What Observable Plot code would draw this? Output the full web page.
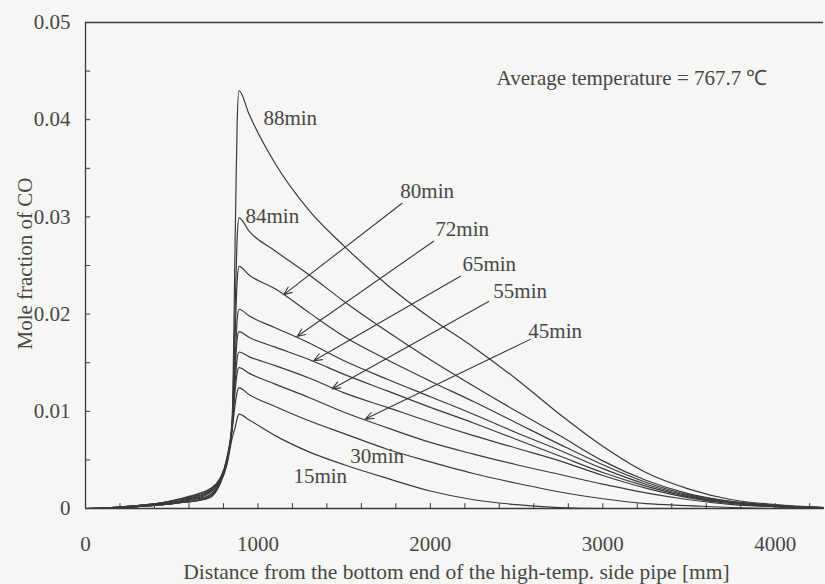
<!DOCTYPE html>
<html>
<head>
<meta charset="utf-8">
<script src="https://cdn.jsdelivr.net/npm/d3@7"></script>
<script src="https://cdn.jsdelivr.net/npm/@observablehq/plot@0.6"></script>
<style>
  body { margin: 0; background: #f6f6f4; }
  #chart svg { display: block; }
</style>
</head>
<body>
<div id="chart"></div>
<script>
// Distance along the pipe [mm] shared by every profile
const distance = [0, 150, 300, 450, 550, 650, 720, 780, 820, 850, 870, 880, 890,
  950, 1100, 1300, 1500, 1750, 2000, 2250, 2500, 2750, 3000, 3250, 3500, 3750, 4000, 4280];

// Mole fraction of CO at each distance, one profile per elapsed time
const co15 = [0, 0, 0.0002, 0.0004, 0.0006, 0.0008, 0.0011, 0.0025, 0.0045, 0.0072, 0.0085, 0.0093, 0.0097,
  0.0091, 0.0075, 0.0058, 0.0045, 0.0031, 0.0018, 0.0009, 0.0004, 0.0001, 0, 0, 0, 0, 0, 0];
const co30 = [0, 0, 0.0002, 0.0004, 0.0006, 0.0008, 0.0012, 0.0026, 0.0047, 0.0080, 0.0110, 0.0120, 0.0124,
  0.0117, 0.0105, 0.0090, 0.0077, 0.0061, 0.0048, 0.0036, 0.0026, 0.0017, 0.0010, 0.0005, 0.0003, 0.0001, 0, 0];
const co45 = [0, 0, 0.0002, 0.0004, 0.0006, 0.0009, 0.0013, 0.0027, 0.0048, 0.0082, 0.0125, 0.0140, 0.0145,
  0.0139, 0.0128, 0.0114, 0.0099, 0.0083, 0.0068, 0.0056, 0.0045, 0.0035, 0.0025, 0.0016, 0.0009, 0.0004, 0.0002, 0.0001];
const co55 = [0, 0, 0.0002, 0.0004, 0.0007, 0.0010, 0.0014, 0.0027, 0.0048, 0.0083, 0.0135, 0.0155, 0.0161,
  0.0156, 0.0147, 0.0134, 0.0119, 0.0104, 0.0089, 0.0075, 0.0062, 0.0049, 0.0034, 0.0021, 0.0011, 0.0005, 0.0002, 0.0001];
const co65 = [0, 0, 0.0002, 0.0005, 0.0008, 0.0011, 0.0016, 0.0028, 0.0049, 0.0084, 0.0150, 0.0175, 0.0182,
  0.0176, 0.0166, 0.0153, 0.0138, 0.0121, 0.0104, 0.0088, 0.0071, 0.0054, 0.0037, 0.0023, 0.0012, 0.0006, 0.0002, 0.0001];
const co72 = [0, 0.0001, 0.0003, 0.0005, 0.0008, 0.0012, 0.0017, 0.0029, 0.0050, 0.0085, 0.0160, 0.0195, 0.0205,
  0.0198, 0.0186, 0.0170, 0.0152, 0.0133, 0.0115, 0.0097, 0.0078, 0.0060, 0.0041, 0.0025, 0.0013, 0.0006, 0.0003, 0.0001];
const co80 = [0, 0.0001, 0.0003, 0.0006, 0.0009, 0.0013, 0.0018, 0.0030, 0.0050, 0.0086, 0.0190, 0.0235, 0.0249,
  0.0240, 0.0226, 0.0201, 0.0177, 0.0153, 0.0131, 0.0110, 0.0088, 0.0066, 0.0045, 0.0027, 0.0014, 0.0007, 0.0003, 0.0001];
const co84 = [0, 0.0001, 0.0003, 0.0006, 0.0010, 0.0014, 0.0019, 0.0030, 0.0051, 0.0087, 0.0220, 0.0280, 0.0299,
  0.0285, 0.0265, 0.0240, 0.0213, 0.0182, 0.0153, 0.0126, 0.0100, 0.0075, 0.0049, 0.0029, 0.0015, 0.0007, 0.0003, 0.0001];
const co88 = [0, 0.0001, 0.0003, 0.0006, 0.0010, 0.0015, 0.0020, 0.0031, 0.0052, 0.0090, 0.0300, 0.0400, 0.0430,
  0.0405, 0.0355, 0.0306, 0.0270, 0.0230, 0.0196, 0.0166, 0.0133, 0.0097, 0.0064, 0.0037, 0.0020, 0.0009, 0.0004, 0.0001];

const times = ["15min", "30min", "45min", "55min", "65min", "72min", "80min", "84min", "88min"];
const profiles = [co15, co30, co45, co55, co65, co72, co80, co84, co88];

// Curve labels: text, left edge distance [mm], vertical centre (mole fraction)
const labelText = ["88min", "84min", "80min", "72min", "65min", "55min", "45min", "30min", "15min"];
const labelX    = [1032, 928, 1826, 2029, 2186, 2365, 2568, 1536, 1206];
const labelY    = [0.0401, 0.0301, 0.0326, 0.0287, 0.0251, 0.0224, 0.0182, 0.0054, 0.0033];

// Leader arrows: from the label towards its curve
const arrowFromX = [1836, 2019, 2174, 2338, 2580];
const arrowFromY = [0.0314, 0.0275, 0.0239, 0.0213, 0.0174];
const arrowToX   = [1150, 1227, 1324, 1430, 1623];
const arrowToY   = [0.0220, 0.0177, 0.0152, 0.0123, 0.0092];

const xMax = 4280;
const xTicks = d3.range(0, 4201, 200);
const xLabels = [0, 1000, 2000, 3000, 4000];
const yTicks = d3.range(0, 0.0501, 0.005).map(v => +v.toFixed(3));
const yLabels = [0, 0.01, 0.02, 0.03, 0.04, 0.05];

const rows = profiles.flatMap((vals, i) =>
  vals.map((v, j) => ({time: times[i], x: distance[j], y: v})));
const labels = labelText.map((t, i) => ({t, x: labelX[i], y: labelY[i]}));
const arrows = arrowFromX.map((_, i) => ({x1: arrowFromX[i], y1: arrowFromY[i], x2: arrowToX[i], y2: arrowToY[i]}));

const ink = "#3a3a3a";
const textInk = "#474747";
const font = "'Liberation Serif', 'Times New Roman', serif";
const fs = 21;

const chart = Plot.plot({
  width: 825,
  height: 584,
  marginLeft: 85,
  marginRight: 2,
  marginTop: 22,
  marginBottom: 76,
  style: {background: "transparent", fontFamily: font, fontSize: fs + "px", color: textInk},
  x: {domain: [0, xMax], axis: null},
  y: {domain: [0, 0.05], axis: null},
  marks: [
    // frame
    Plot.ruleY([0, 0.05], {stroke: ink, strokeWidth: 1.3}),
    Plot.ruleX([0], {stroke: ink, strokeWidth: 1.3}),
    // inward ticks
    Plot.ruleX(xTicks, {x: d => d, y1: 0, y2: 0.0005, stroke: ink}),
    Plot.ruleY(yTicks, {y: d => d, x1: 0, x2: 30, stroke: ink}),
    // tick labels
    Plot.text(xLabels, {x: d => d, frameAnchor: "bottom", dy: 36, lineAnchor: "middle", text: d => String(d), fontSize: fs, fill: textInk}),
    Plot.text(yLabels, {y: d => d, frameAnchor: "left", dx: -15, textAnchor: "end", lineAnchor: "middle",
      text: d => d === 0 ? "0" : d.toFixed(2), fontSize: fs, fill: textInk}),
    // concentration profiles
    Plot.line(rows, {x: "x", y: "y", z: "time", stroke: ink, strokeWidth: 1.2, curve: "monotone-x"}),
    // leader arrows
    Plot.arrow(arrows, {x1: "x1", y1: "y1", x2: "x2", y2: "y2", stroke: ink, strokeWidth: 1.1, headLength: 12, headAngle: 45, bend: 0}),
    Plot.text(labels, {x: "x", y: "y", text: "t", textAnchor: "start", lineAnchor: "middle", fontSize: fs, fill: textInk}),
    // annotation and axis titles
    Plot.text(["Average temperature = 767.7 \u2103"], {frameAnchor: "top-right", dx: -56, dy: 56, textAnchor: "end", lineAnchor: "middle", fontSize: fs, fill: textInk}),
    Plot.text(["Distance from the bottom end of the high-temp. side pipe [mm]"], {frameAnchor: "bottom", dx: 2, dy: 64, lineAnchor: "middle", fontSize: 21.5, fill: textInk}),
    Plot.text(["Mole fraction of CO"], {frameAnchor: "left", dx: -60, dy: -2, rotate: -90, textAnchor: "middle", lineAnchor: "middle", fontSize: fs, fill: textInk})
  ]
});
document.getElementById("chart").append(chart);
</script>
</body>
</html>
